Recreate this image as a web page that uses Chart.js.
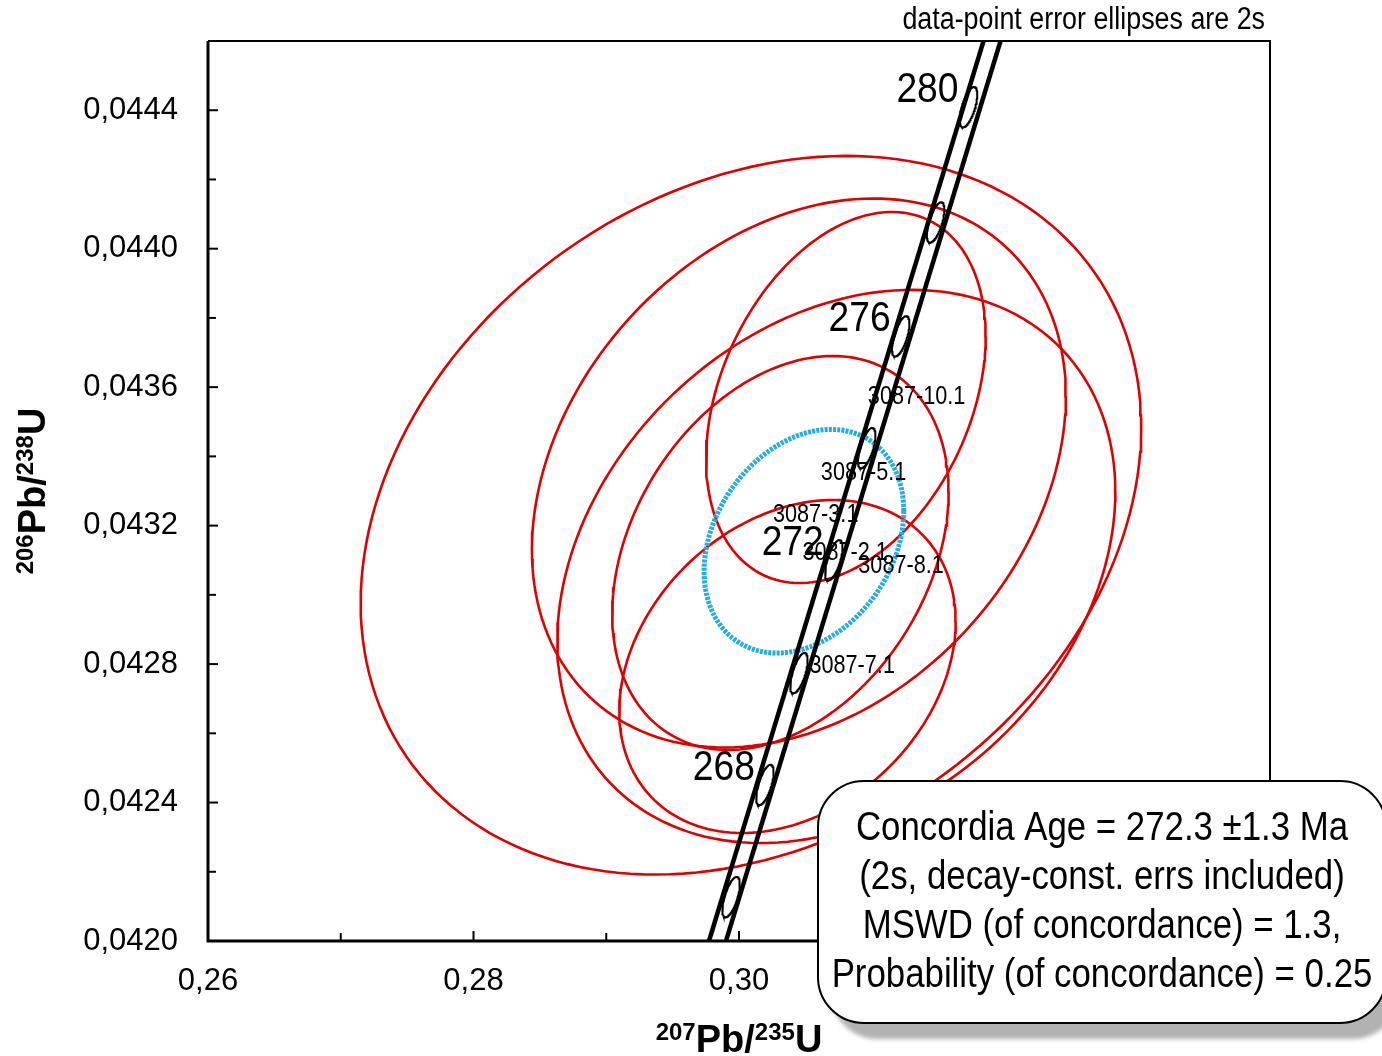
<!DOCTYPE html>
<html>
<head>
<meta charset="utf-8">
<script src="https://cdn.jsdelivr.net/npm/chart.js@4.4.0/dist/chart.umd.min.js"></script>
<style>
html, body { margin: 0; padding: 0; background: #fff; }
#wrap { width: 1382px; height: 1056px; }
</style>
</head>
<body>
<div id="wrap"><canvas id="concordia" width="1382" height="1056"></canvas></div>
<script>
// spot analyses, errors are 2s
var spotNames = ['3087-3.1', '3087-5.1', '3087-10.1', '3087-8.1', '3087-2.1', '3087-7.1'];
var pb207U235 = [0.30090, 0.30451, 0.30805, 0.30733, 0.30312, 0.30365];
var err207 = [0.02940, 0.02011, 0.01053, 0.02102, 0.01267, 0.01267];
var pb206U238 = [0.043230, 0.043352, 0.043570, 0.043082, 0.043121, 0.042793];
var err206 = [0.001038, 0.000793, 0.000536, 0.000799, 0.000569, 0.000481];
var errCorr = [0.245, 0.28, 0.33, 0.27, 0.31, 0.27];

// concordia age ellipse
var concX = 0.30489, concErrX = 0.00752;
var concY = 0.043155, concErrY = 0.000323;
var concRho = 0.27;

// concordia curve age marks (Ma)
var markAges = [266, 268, 270, 272, 274, 276, 278, 280];
var markX = [0.29940, 0.30195, 0.30451, 0.30714, 0.30962, 0.31218, 0.31481, 0.31729];
var markY = [0.042127, 0.042451, 0.042774, 0.043100, 0.043424, 0.043747, 0.044076, 0.044409];
var markLabels = ['', '268', '', '272', '', '276', '', '280'];
var markErrX = 0.00066, markErrY = 0.0000583, markRho = 0.63;

// concordia band edges (decay-constant errors)
var bandY = [0.0420, 0.0446];
var bandLeftX = [0.29774, 0.31842];
var bandRightX = [0.29902, 0.31970];

// axes
var xTickValues = [0.26, 0.27, 0.28, 0.29, 0.30, 0.31, 0.32, 0.33, 0.34];
var xTickLabels = ['0,26', '', '0,28', '', '0,30', '', '0,32', '', '0,34'];
var yTickValues = [0.0420, 0.0422, 0.0424, 0.0426, 0.0428, 0.0430, 0.0432, 0.0434, 0.0436, 0.0438, 0.0440, 0.0442, 0.0444, 0.0446];
var yTickLabels = ['0,0420', '', '0,0424', '', '0,0428', '', '0,0432', '', '0,0436', '', '0,0440', '', '0,0444', ''];

var boxLines = [
  'Concordia Age = 272.3 \u00b11.3 Ma',
  '(2s, decay-const. errs included)',
  'MSWD (of concordance) = 1.3,',
  'Probability (of concordance) = 0.25'
];

var FONT = "'Liberation Sans', Arial, sans-serif";

function ellipse(cx, cy, ex, ey, rho) {
  var pts = [];
  var s = Math.sqrt(1 - rho * rho);
  for (var k = 0; k <= 180; k++) {
    var t = k / 180 * 2 * Math.PI;
    pts.push({ x: cx + ex * Math.cos(t), y: cy + ey * (rho * Math.cos(t) + s * Math.sin(t)) });
  }
  return pts;
}

var datasets = [];
for (var i = 0; i < spotNames.length; i++) {
  datasets.push({
    label: spotNames[i],
    data: ellipse(pb207U235[i], pb206U238[i], err207[i], err206[i], errCorr[i]),
    borderColor: '#e00000', borderWidth: 2.6, order: 4
  });
}
datasets.push({
  label: 'Concordia age',
  data: ellipse(concX, concY, concErrX, concErrY, concRho),
  borderColor: '#22ade8', borderWidth: 5, borderDash: [3, 1.2], order: 3
});
datasets.push({
  label: 'band left',
  data: [{ x: bandLeftX[0], y: bandY[0] }, { x: bandLeftX[1], y: bandY[1] }],
  borderColor: '#000', borderWidth: 4.5, order: 2
});
datasets.push({
  label: 'band right',
  data: [{ x: bandRightX[0], y: bandY[0] }, { x: bandRightX[1], y: bandY[1] }],
  borderColor: '#000', borderWidth: 4.5, order: 2
});
for (var j = 0; j < markAges.length; j++) {
  datasets.push({
    label: markAges[j] + ' Ma',
    data: ellipse(markX[j], markY[j], markErrX, markErrY, markRho),
    borderColor: '#000', borderWidth: 2, order: 1
  });
}

function squeezed(ctx, text, x, y, size, align, sx) {
  ctx.save();
  ctx.translate(x, y);
  ctx.scale(sx, 1);
  ctx.font = size + 'px ' + FONT;
  ctx.textAlign = align;
  ctx.textBaseline = 'middle';
  ctx.fillStyle = '#000';
  ctx.fillText(text, 0, 0);
  ctx.restore();
}

// 207Pb/235U style title with superscripts, drawn along local x
function isoTitle(ctx, parts) {
  var widths = [], total = 0;
  for (var p = 0; p < parts.length; p++) {
    ctx.font = 'bold ' + (parts[p][1] ? 24 : 38) + 'px ' + FONT;
    widths.push(ctx.measureText(parts[p][0]).width);
    total += widths[p];
  }
  var x = -total / 2;
  ctx.textAlign = 'left';
  ctx.textBaseline = 'alphabetic';
  ctx.fillStyle = '#000';
  for (p = 0; p < parts.length; p++) {
    ctx.font = 'bold ' + (parts[p][1] ? 24 : 38) + 'px ' + FONT;
    ctx.fillText(parts[p][0], x, parts[p][1] ? -12 : 0);
    x += widths[p];
  }
}

function roundRectPath(ctx, x, y, w, h, r) {
  ctx.beginPath();
  ctx.moveTo(x + r, y);
  ctx.lineTo(x + w - r, y);
  ctx.arcTo(x + w, y, x + w, y + r, r);
  ctx.lineTo(x + w, y + h - r);
  ctx.arcTo(x + w, y + h, x + w - r, y + h, r);
  ctx.lineTo(x + r, y + h);
  ctx.arcTo(x, y + h, x, y + h - r, r);
  ctx.lineTo(x, y + r);
  ctx.arcTo(x, y, x + r, y, r);
  ctx.closePath();
}

var decorations = {
  id: 'decorations',
  afterDraw: function(chart) {
    var ctx = chart.ctx;
    var a = chart.chartArea;
    var xs = chart.scales.x, ys = chart.scales.y;

    // frame
    ctx.save();
    ctx.strokeStyle = '#000';
    ctx.lineWidth = 2;
    ctx.beginPath();
    ctx.moveTo(a.left, a.top); ctx.lineTo(a.right, a.top); ctx.lineTo(a.right, a.bottom);
    ctx.stroke();
    ctx.lineWidth = 3;
    ctx.beginPath();
    ctx.moveTo(a.left, a.top); ctx.lineTo(a.left, a.bottom); ctx.lineTo(a.right, a.bottom);
    ctx.stroke();

    // inward ticks
    ctx.lineWidth = 2;
    xs.ticks.forEach(function(t, k) {
      var px = xs.getPixelForValue(t.value);
      var len = xTickLabels[k] ? 10 : 8;
      ctx.beginPath(); ctx.moveTo(px, a.bottom); ctx.lineTo(px, a.bottom - len); ctx.stroke();
    });
    ys.ticks.forEach(function(t, k) {
      var py = ys.getPixelForValue(t.value);
      var len = yTickLabels[k] ? 10 : 8;
      ctx.beginPath(); ctx.moveTo(a.left, py); ctx.lineTo(a.left + len, py); ctx.stroke();
    });
    ctx.restore();

    // age labels on concordia
    for (var m = 0; m < markAges.length; m++) {
      if (!markLabels[m]) continue;
      squeezed(ctx, markLabels[m], xs.getPixelForValue(markX[m]) - 10, ys.getPixelForValue(markY[m]) - 17, 43, 'right', 0.866);
    }
    // spot labels
    for (var s = 0; s < spotNames.length; s++) {
      squeezed(ctx, spotNames[s], xs.getPixelForValue(pb207U235[s]) + 22, ys.getPixelForValue(pb206U238[s]), 25, 'left', 0.866);
    }

    // note above the plot
    squeezed(ctx, 'data-point error ellipses are 2s', a.right - 5, 20, 31, 'right', 0.866);

    // axis titles
    ctx.save();
    ctx.translate((a.left + a.right) / 2, 1052);
    isoTitle(ctx, [['207', true], ['Pb/', false], ['235', true], ['U', false]]);
    ctx.restore();
    ctx.save();
    ctx.translate(45, (a.top + a.bottom) / 2);
    ctx.rotate(-Math.PI / 2);
    isoTitle(ctx, [['206', true], ['Pb/', false], ['238', true], ['U', false]]);
    ctx.restore();

    // result box
    ctx.save();
    ctx.filter = 'blur(2px)';
    roundRectPath(ctx, 831, 797, 568, 242, 46);
    ctx.fillStyle = '#b2b2b2';
    ctx.fill();
    ctx.restore();
    ctx.save();
    roundRectPath(ctx, 818, 781, 568, 242, 46);
    ctx.fillStyle = '#fff';
    ctx.fill();
    ctx.lineWidth = 2;
    ctx.strokeStyle = '#000';
    ctx.stroke();
    ctx.restore();
    for (var b = 0; b < boxLines.length; b++) {
      squeezed(ctx, boxLines[b], 1102, 829 + b * 49, 40, 'center', 0.87);
    }
  }
};

new Chart(document.getElementById('concordia').getContext('2d'), {
  type: 'scatter',
  data: { datasets: datasets },
  options: {
    responsive: false,
    animation: false,
    events: [],
    layout: { padding: { left: 0, top: 41, right: 112, bottom: 0 } },
    elements: {
      point: { radius: 0 },
      line: { tension: 0, fill: false }
    },
    datasets: { scatter: { showLine: true, pointRadius: 0 } },
    plugins: { legend: { display: false }, tooltip: { enabled: false } },
    scales: {
      x: {
        type: 'linear', min: 0.26, max: 0.34,
        afterBuildTicks: function(scale) { scale.ticks = xTickValues.map(function(v) { return { value: v }; }); },
        afterFit: function(scale) { scale.height = 115; scale.paddingLeft = 0; scale.paddingRight = 0; },
        grid: { display: false, drawTicks: false },
        border: { display: false },
        ticks: {
          autoSkip: false, maxRotation: 0, padding: 22, color: '#000',
          font: { family: FONT, size: 31 },
          callback: function(v, k) { return xTickLabels[k]; }
        }
      },
      y: {
        type: 'linear', min: 0.0420, max: 0.0446,
        afterBuildTicks: function(scale) { scale.ticks = yTickValues.map(function(v) { return { value: v }; }); },
        afterFit: function(scale) { scale.width = 208; scale.paddingTop = 0; scale.paddingBottom = 0; },
        grid: { display: false, drawTicks: false },
        border: { display: false },
        ticks: {
          autoSkip: false, padding: 30, color: '#000',
          font: { family: FONT, size: 31 },
          callback: function(v, k) { return yTickLabels[k]; }
        }
      }
    }
  },
  plugins: [decorations]
});
</script>
</body>
</html>
